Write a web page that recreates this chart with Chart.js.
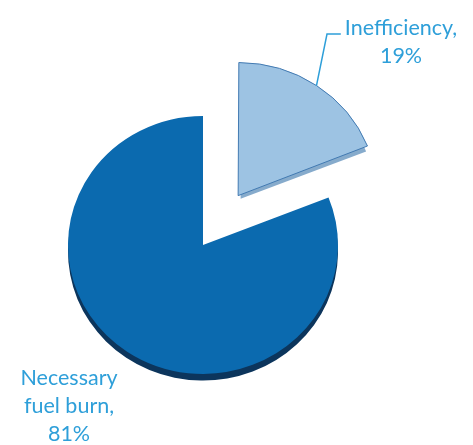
<!DOCTYPE html>
<html>
<head>
<meta charset="utf-8">
<script src="https://cdn.jsdelivr.net/npm/chart.js@4"></script>
<style>
  html, body { margin: 0; padding: 0; background: #fff; }
  #wrap { width: 473px; height: 445px; }
</style>
</head>
<body>
<div id="wrap"><canvas id="fuel-chart" width="473" height="445"></canvas></div>
<script>
// data
const categories = ['Inefficiency', 'Necessary fuel burn'];
const shares = [19, 81];

const sliceColors = ['#9dc3e3', '#0b6aaf'];
const depthColors = ['#86abcc', '#0c355c'];
const edgeColors = ['#3f78b0', '#0b6aaf'];
const labelColor = '#2e9fd9';

const tiltY = 0.955;   // squash for the tilted look
const depth = 7;

// same shift that ArcElement.draw applies for options.offset
function arcShift(arc) {
  const off = (arc.options.offset || 0) / 4;
  const circ = arc.endAngle - arc.startAngle;
  const fix = 1 - Math.sin(Math.min(Math.PI, circ || 0));
  return off * (1 + fix);
}

// squash + side walls under the top surface
const tiltPlugin = {
  id: 'tilt',
  beforeDatasetsDraw(chart) {
    const ctx = chart.ctx;
    const arcs = chart.getDatasetMeta(0).data;
    const cy = arcs[0].y;
    ctx.save();
    ctx.translate(0, cy);
    ctx.scale(1, tiltY);
    ctx.translate(0, -cy);

    arcs.forEach((arc, i) => {
      const p = arc.getProps(['x', 'y', 'startAngle', 'endAngle', 'outerRadius']);
      const off = arcShift(arc);
      const mid = (p.startAngle + p.endAngle) / 2;
      const x = p.x + Math.cos(mid) * off;
      const y = p.y + Math.sin(mid) * off + depth;
      ctx.beginPath();
      ctx.moveTo(x, y);
      ctx.arc(x, y, p.outerRadius, p.startAngle, p.endAngle);
      ctx.closePath();
      ctx.fillStyle = depthColors[i];
      ctx.fill();
    });
  },
  afterDatasetsDraw(chart) {
    chart.ctx.restore();
  }
};

// labels with leader line
const labelPlugin = {
  id: 'sliceLabels',
  afterDraw(chart) {
    const ctx = chart.ctx;
    const arcs = chart.getDatasetMeta(0).data;
    ctx.save();
    ctx.font = '21.5px Lato, "Open Sans", sans-serif';
    ctx.fillStyle = labelColor;
    ctx.textAlign = 'center';
    ctx.textBaseline = 'alphabetic';

    // Inefficiency, top right
    const t1 = [categories[0] + ',', shares[0] + '%'];
    ctx.fillText(t1[0], 401, 35);
    ctx.fillText(t1[1], 401, 63);

    const a = arcs[0];
    const p = a.getProps(['x', 'y', 'startAngle', 'endAngle', 'outerRadius']);
    const mid = (p.startAngle + p.endAngle) / 2;
    const off = arcShift(a);
    const ex = p.x + Math.cos(mid) * (off + p.outerRadius);
    const ey = p.y + (Math.sin(mid) * (off + p.outerRadius)) * tiltY;
    const w = ctx.measureText(t1[0]).width;
    ctx.strokeStyle = labelColor;
    ctx.lineWidth = 1.5;
    ctx.beginPath();
    ctx.moveTo(401 - w / 2 - 4, 34);
    ctx.lineTo(327, 34);
    ctx.lineTo(ex, ey);
    ctx.stroke();

    // Necessary fuel burn, bottom left
    const words = categories[1].split(' ');
    const t2 = [words[0], words.slice(1).join(' ') + ',', shares[1] + '%'];
    ctx.fillText(t2[0], 69, 385);
    ctx.fillText(t2[1], 69, 413);
    ctx.fillText(t2[2], 69, 441);
    ctx.restore();
  }
};

new Chart(document.getElementById('fuel-chart'), {
  type: 'pie',
  data: {
    labels: categories,
    datasets: [{
      data: shares,
      backgroundColor: sliceColors,
      borderColor: edgeColors,
      borderWidth: [1, 0],
      offset: [250, 0],
      radius: 135
    }]
  },
  options: {
    responsive: false,
    animation: false,
    layout: { padding: { left: 0, right: 67, top: 45, bottom: 0 } },
    plugins: {
      legend: { display: false },
      tooltip: { enabled: false }
    }
  },
  plugins: [tiltPlugin, labelPlugin]
});
</script>
</body>
</html>
